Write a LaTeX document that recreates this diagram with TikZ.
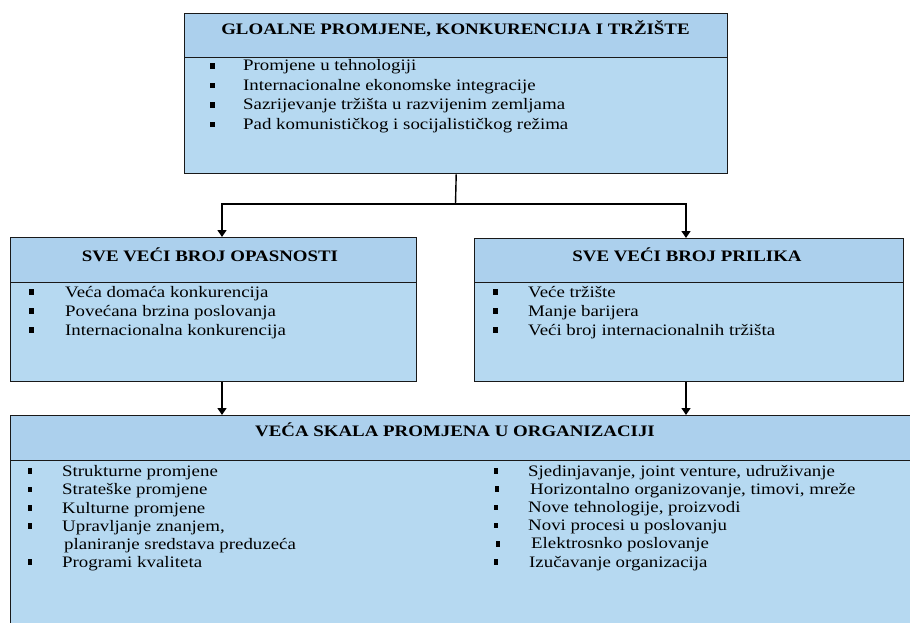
\documentclass[tikz,border=0pt]{standalone}
\usepackage{fontspec}
\setmainfont{Liberation Serif}[FakeStretch=1.18]
\usetikzlibrary{arrows.meta}

\definecolor{hdrblue}{RGB}{172,208,237}
\definecolor{bodyblue}{RGB}{182,217,241}
\definecolor{edge}{RGB}{25,25,25}

\tikzset{
  part/.style={draw=edge, line width=1.4pt, inner sep=0pt, anchor=north west},
  hdr/.style={part, fill=hdrblue},
  bodyp/.style={part, fill=bodyblue},
  ttl/.style={font=\fontsize{16}{19}\selectfont\bfseries, anchor=base, inner sep=0pt},
  item/.style={font=\fontsize{16}{19}\selectfont, anchor=base west, inner sep=0pt},
  bul/.style={fill=black, inner sep=0pt, minimum width=5pt, minimum height=5.5pt},
  sbul/.style={bul, minimum width=4pt},
  link/.style={draw=black, line width=1.4pt},
  arr/.style={link, -{Triangle[width=9pt,length=7pt]}}
}

\begin{document}
\begin{tikzpicture}[x=1pt, y=-1pt]
\useasboundingbox (0,0) rectangle (910,623);
\clip (0,0) rectangle (910,623);
\fill[white] (0,0) rectangle (910,623);

% ---------- global changes ----------
\node[bodyp, minimum width=543pt, minimum height=116pt] (gB) at (184,57) {};
\node[hdr, minimum width=543pt, minimum height=44pt] (gH) at (184,13) {};
\node[ttl, name=gT] at (455.5,35) {GLOALNE PROMJENE, KONKURENCIJA I TRŽIŠTE};
\foreach \t [count=\i] in {Promjene u tehnologiji,
    Internacionalne ekonomske integracije,
    Sazrijevanje tržišta u razvijenim zemljama,
    Pad komunističkog i socijalističkog režima} {
  \node[item, name=g\i] at (243,{71+19.5*(\i-1)}) {\t};
  \node[bul, name=gb\i] at (212,{71+19.5*(\i-1)-5}) {};
}

% ---------- threats ----------
\node[bodyp, minimum width=406pt, minimum height=99pt] (oB) at (10,282) {};
\node[hdr, minimum width=406pt, minimum height=45pt] (oH) at (10,237) {};
\node[ttl, name=oT] at (210,261) {SVE VEĆI BROJ OPASNOSTI};
\foreach \t [count=\i] in {Veća domaća konkurencija,
    Povećana brzina poslovanja,
    Internacionalna konkurencija} {
  \node[item, name=o\i] at (65,{297+19*(\i-1)}) {\t};
  \node[bul, name=ob\i] at (31,{297+19*(\i-1)-5}) {};
}

% ---------- opportunities ----------
\node[bodyp, minimum width=429pt, minimum height=99pt] (pB) at (474,282) {};
\node[hdr, minimum width=429pt, minimum height=44pt] (pH) at (474,238) {};
\node[ttl, name=pT] at (687,261) {SVE VEĆI BROJ PRILIKA};
\foreach \t [count=\i] in {Veće tržište,
    Manje barijera,
    Veći broj internacionalnih tržišta} {
  \node[item, name=p\i] at (528,{297+19*(\i-1)}) {\t};
  \node[bul, name=pb\i] at (495,{297+19*(\i-1)-5}) {};
}

% ---------- organisational change ----------
\node[bodyp, minimum width=920pt, minimum height=190pt] (vB) at (10,460) {};
\node[hdr, minimum width=920pt, minimum height=45pt] (vH) at (10,415) {};
\node[ttl, name=vT] at (455,436) {VEĆA SKALA PROMJENA U ORGANIZACIJI};

% left column
\node[item, name=vl1] at (62,476) {Strukturne promjene};
\node[item, name=vl2] at (62,494.5) {Strateške promjene};
\node[item, name=vl3] at (62,513) {Kulturne promjene};
\node[item, name=vl4] at (62,531) {Upravljanje znanjem,};
\node[item, name=vl4b] at (64,549) {planiranje sredstava preduzeća};
\node[item, name=vl5] at (62,567) {Programi kvaliteta};
\foreach \y [count=\i] in {476,494.5,513,531,567} {
  \node[sbul, name=vlb\i] at (30,\y-5) {};
}

% right column
\foreach \t/\dx/\bx [count=\i] in {{Sjedinjavanje, joint venture, udruživanje}/0/0,
    {Horizontalno organizovanje, timovi, mreže}/2/1,
    {Nove tehnologije, proizvodi}/0/0,
    {Novi procesi u poslovanju}/0/0,
    {Elektrosnko poslovanje}/3/2,
    {Izučavanje organizacija}/1/0} {
  \pgfmathsetmacro{\yy}{476+18.2*(\i-1)}
  \node[item, name=vr\i] at (528+\dx,\yy) {\t};
  \node[sbul, name=vrb\i] at (496+\bx,\yy-5) {};
}

% ---------- connectors ----------
\coordinate (j) at (455.5,204);
\coordinate (aL) at (222,237);
\coordinate (aR) at (686,238);
\draw[link] (gB.south) -- (j);
\draw[arr] (j) -| (aL);
\draw[arr] (j) -| (aR);
\draw[arr] (aL |- oB.south) -- (aL |- vH.north);
\draw[arr] (aR |- pB.south) -- (aR |- vH.north);
\end{tikzpicture}
\end{document}
